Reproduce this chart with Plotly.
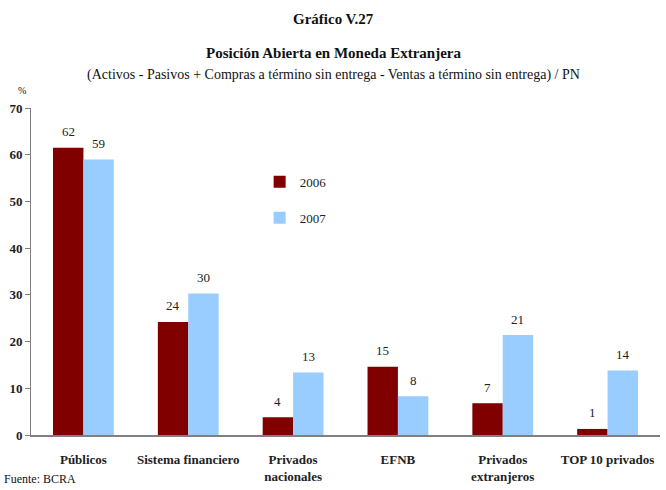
import plotly.graph_objects as go

categories = ["Públicos", "Sistema financiero", "Privados<br>nacionales", "EFNB",
              "Privados<br>extranjeros", "TOP 10 privados"]
values_2006 = [61.5, 24.2, 3.8, 14.6, 6.8, 1.3]
values_2007 = [59.0, 30.3, 13.4, 8.3, 21.4, 13.8]
y_ticks = [0, 10, 20, 30, 40, 50, 60, 70]

SERIF = "Liberation Serif"
W, H = 666, 490
L, R, T, B = 31, 6, 108, 52

fig = go.Figure()
fig.add_trace(go.Bar(name="2006", x=categories, y=values_2006, marker_color="#800000",
                     marker_line_width=0, legendgroup="a"))
fig.add_trace(go.Bar(name="2007", x=categories, y=values_2007, marker_color="#99CCFF",
                     marker_line_width=0, legendgroup="b"))

# value labels above each bar, rounded to whole percent
half_bar = (W - L - R) / len(categories) * (1 - 0.42) / 4
for vals, dx in ((values_2006, -half_bar), (values_2007, half_bar)):
    for cat, v in zip(categories, vals):
        fig.add_annotation(x=cat, y=v, text=f"{v:.0f}", showarrow=False,
                           xshift=dx, yshift=16, yanchor="middle",
                           font=dict(family=SERIF, size=13, color="#222"))

fig.update_layout(
    width=W, height=H,
    margin=dict(l=L, r=R, t=T, b=B),
    paper_bgcolor="white", plot_bgcolor="white",
    barmode="group", bargap=0.42, bargroupgap=0,
    font=dict(family=SERIF, color="#222"),
    showlegend=True,
    legend=dict(x=0.3635, y=0.82, xanchor="left", yanchor="top",
                tracegroupgap=16, font=dict(family=SERIF, size=13, color="#222"),
                bgcolor="rgba(0,0,0,0)"),
)
fig.update_xaxes(
    showline=True, linecolor="#808080", linewidth=2, ticks="",
    ticklabelstandoff=11,
    tickfont=dict(family=SERIF, size=13, color="#222", weight="bold"),
    showgrid=False,
)
fig.update_yaxes(
    range=[0, 70], tickvals=y_ticks, showgrid=False, zeroline=False,
    showline=True, linecolor="#808080", linewidth=1,
    ticks="outside", ticklen=5, tickcolor="#808080",
    tickfont=dict(family=SERIF, size=13, color="#222", weight="bold"),
)


def to_paper(px, py):
    return (px - L) / (W - L - R), (H - B - py) / (H - T - B)


texts = [
    ("<b>Gráfico V.27</b>", 333, 18, 15, "center"),
    ("<b>Posición Abierta en Moneda Extranjera</b>", 333, 53, 15, "center"),
    ("(Activos - Pasivos + Compras a término sin entrega - Ventas a término sin entrega) / PN",
     333, 75, 14, "center"),
    ("%", 22, 90, 10, "center"),
    ("Fuente: BCRA", 2, 482, 12, "left"),
]
for txt, px, py, sz, anchor in texts:
    xp, yp = to_paper(px, py)
    fig.add_annotation(text=txt, x=xp, y=yp, xref="paper", yref="paper",
                       xanchor=anchor, yanchor="middle", showarrow=False,
                       font=dict(family=SERIF, size=sz, color="#111"))

fig.write_html("out.html")
